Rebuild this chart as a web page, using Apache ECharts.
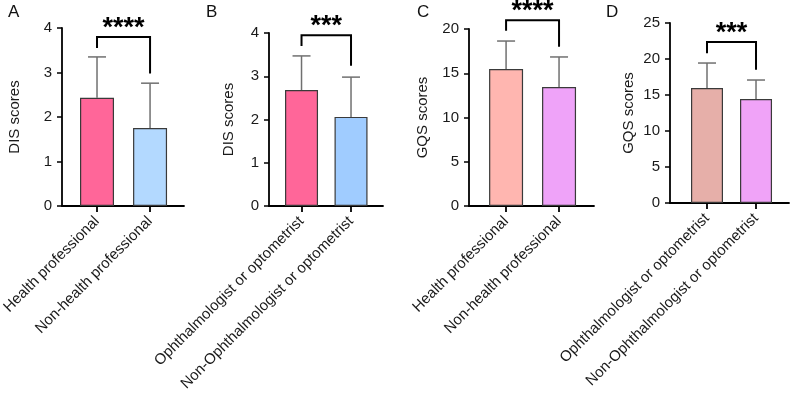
<!DOCTYPE html>
<html>
<head>
<meta charset="utf-8">
<script src="https://cdn.jsdelivr.net/npm/echarts@6/dist/echarts.min.js"></script>
<style>
html,body{margin:0;padding:0;background:#fff;}
#chart{width:790px;height:402px;}
</style>
</head>
<body>
<div id="chart"></div>
<script>
// ---- data ----
const panelLetters = ['A', 'B', 'C', 'D'];
const yNames = ['DIS scores', 'DIS scores', 'GQS scores', 'GQS scores'];
const catsProf = ['Health professional', 'Non-health professional'];
const catsOph = ['Ophthalmologist or optometrist', 'Non-Ophthalmologist or optometrist'];
const panelCats = [catsProf, catsOph, catsProf, catsOph];
const meansA = [2.43, 1.75];
const meansB = [2.68, 2.06];
const meansC = [15.48, 13.45];
const meansD = [15.97, 14.44];
const errTopA = [3.35, 2.76];
const errTopB = [3.47, 2.98];
const errTopC = [18.64, 16.84];
const errTopD = [19.44, 17.08];
const yMaxes = [4, 4, 20, 25];
const yIntervals = [1, 1, 5, 5];
const sigLabels = ['****', '***', '****', '***'];
// bracket: [top, left leg end, right leg end]
const bracketA = [3.8, 3.55, 2.98];
const bracketB = [3.95, 3.70, 3.24];
const bracketC = [21.0, 19.8, 18.0];
const bracketD = [22.36, 20.8, 18.5];
const colorsA = ['#FF6699', '#B3D9FF'];
const colorsB = ['#FF6699', '#A0CCFF'];
const colorsC = ['#FFB6B0', '#EFA3F9'];
const colorsD = ['#E6AFA9', '#F0A3F8'];

const means = [meansA, meansB, meansC, meansD];
const errTops = [errTopA, errTopB, errTopC, errTopD];
const brackets = [bracketA, bracketB, bracketC, bracketD];
const colors = [colorsA, colorsB, colorsC, colorsD];

// ---- layout ----
const FONT = 'Arial, "Liberation Sans", sans-serif';
const grids = [
  {left: 62, top: 28, width: 122, height: 178},
  {left: 269, top: 33, width: 114, height: 173},
  {left: 469, top: 29, width: 125, height: 177},
  {left: 670, top: 23, width: 119, height: 180}
];
const xRanges = [[-0.66, 1.64], [-0.657, 1.646], [-0.70, 1.66], [-0.755, 1.673]];
const barWidths = [34, 33, 34, 32];
const nameGaps = [40, 33, 39, 34];
const letterPos = [[8, 4], [206, 4], [417, 4], [606, 4]];

const option = {
  backgroundColor: '#fff',
  animation: false,
  title: panelLetters.map((l, i) => ({
    text: l, left: letterPos[i][0], top: letterPos[i][1], padding: 0,
    textStyle: {fontFamily: FONT, fontSize: 17, fontWeight: 'normal', color: '#111'}
  })),
  grid: grids.map(g => Object.assign({outerBoundsMode: 'none', containLabel: false}, g)),
  xAxis: grids.map((g, i) => ({
    type: 'value', gridIndex: i, min: xRanges[i][0], max: xRanges[i][1],
    splitLine: {show: false},
    axisLine: {show: true, onZero: false, lineStyle: {color: '#000', width: 1.8}},
    axisTick: {show: true, length: 6, customValues: [0, 1], lineStyle: {color: '#000', width: 1.8}},
    axisLabel: {
      customValues: [0, 1], rotate: 45, margin: 13,
      fontFamily: FONT, fontSize: 15, color: '#1a1a1a',
      formatter: v => panelCats[i][Math.round(v)]
    }
  })),
  yAxis: grids.map((g, i) => ({
    type: 'value', gridIndex: i, min: 0, max: yMaxes[i], interval: yIntervals[i],
    name: yNames[i], nameLocation: 'middle', nameGap: nameGaps[i],
    nameTextStyle: {fontFamily: FONT, fontSize: 15, color: '#1a1a1a'},
    splitLine: {show: false},
    axisLine: {show: true, onZero: false, lineStyle: {color: '#000', width: 1.8}},
    axisTick: {show: true, length: 5, lineStyle: {color: '#000', width: 1.5}},
    axisLabel: {margin: 10, fontFamily: FONT, fontSize: 15, color: '#1a1a1a'}
  })),
  series: []
};

for (let i = 0; i < 4; i++) {
  option.series.push({
    type: 'bar', xAxisIndex: i, yAxisIndex: i, barWidth: barWidths[i],
    data: means[i].map((v, k) => ({
      value: [k, v],
      itemStyle: {color: colors[i][k], borderColor: '#3a3a3a', borderWidth: 1.2}
    })),
    z: 3
  });
  option.series.push({
    type: 'custom', xAxisIndex: i, yAxisIndex: i, z: 2,
    encode: {x: 0, y: [1, 2]},
    data: means[i].map((v, k) => [k, v, errTops[i][k]]),
    renderItem: function (params, api) {
      const x = api.value(0), m = api.value(1), h = api.value(2);
      const p0 = api.coord([x, m]), p1 = api.coord([x, h]);
      const cw = 9;
      const st = {stroke: '#707070', lineWidth: 1.5};
      return {type: 'group', children: [
        {type: 'line', shape: {x1: p0[0], y1: p0[1], x2: p1[0], y2: p1[1]}, style: st},
        {type: 'line', shape: {x1: p1[0] - cw, y1: p1[1], x2: p1[0] + cw, y2: p1[1]}, style: st}
      ]};
    }
  });
  const label = sigLabels[i];
  option.series.push({
    type: 'custom', xAxisIndex: i, yAxisIndex: i, z: 4, clip: false,
    encode: {x: 0, y: 2},
    data: [[0, 1, brackets[i][0], brackets[i][1], brackets[i][2]]],
    renderItem: function (params, api) {
      const x1 = api.value(0), x2 = api.value(1);
      const top = api.value(2), l = api.value(3), r = api.value(4);
      const pl = api.coord([x1, top]), pr = api.coord([x2, top]);
      const ll = api.coord([x1, l]), rr = api.coord([x2, r]);
      const st = {stroke: '#000', lineWidth: 2, fill: null};
      return {type: 'group', children: [
        {type: 'polyline', shape: {points: [[ll[0], ll[1]], [pl[0], pl[1]], [pr[0], pr[1]], [rr[0], rr[1]]]}, style: st},
        {type: 'text', x: (pl[0] + pr[0]) / 2, y: pl[1] + 5,
          style: {text: label, fontFamily: FONT, fontSize: 27, fontWeight: 'bold', fill: '#000',
            align: 'center', verticalAlign: 'bottom'}}
      ]};
    }
  });
}

const chart = echarts.init(document.getElementById('chart'), null, {renderer: 'canvas'});
chart.setOption(option);
</script>
</body>
</html>
